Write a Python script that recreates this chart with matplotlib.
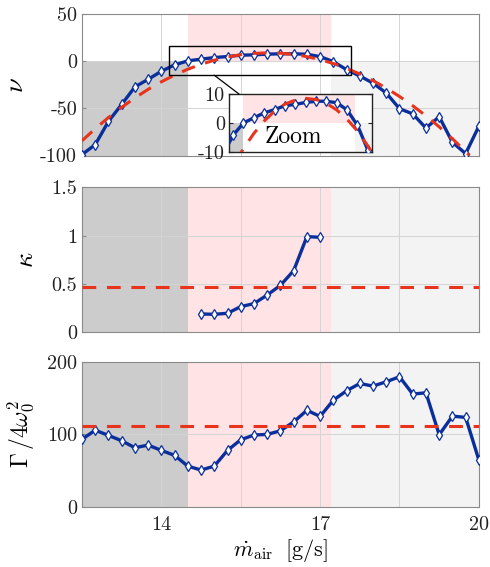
import numpy as np
import matplotlib
matplotlib.use("Agg")
import matplotlib.pyplot as plt
from matplotlib.patches import ConnectionPatch

plt.rcParams['font.family'] = ['cmr10', 'DejaVu Serif']
plt.rcParams['mathtext.fontset'] = 'cm'
plt.rcParams['axes.unicode_minus'] = False
plt.rcParams['axes.formatter.use_mathtext'] = True

# air mass flow rate [g/s]
m_air = np.arange(12.5, 20.01, 0.25)

# top panel: nu
nu = [-99, -88.5, -64, -46, -27.5, -19.5, -11, -4.2, 0, 1.8, 3.5, 4.6, 6.0, 6.4,
      7.1, 7.5, 7.5, 7.0, 4.5, -0.8, -9.3, -16, -23.5, -34, -50.5, -56, -71,
      -59, -86, -98, -69]
# fitted curve (dashed red)
m_fit = [12.5, 12.75, 13.0, 13.25, 13.5, 13.75, 14.0, 14.25, 14.5, 14.75, 15.0,
         15.25, 15.5, 15.75, 16.0, 16.25, 16.5, 16.75, 17.0, 17.25, 17.5, 17.75,
         18.0, 18.25, 18.5, 18.75, 19.0, 19.25, 19.5, 19.75, 19.82]
nu_fit = [-84.4, -71.7, -59.9, -49.0, -39.1, -30.1, -22.1, -15.0, -8.8, -3.6, 0.7,
          4.1, 6.5, 7.9, 8.5, 8.1, 6.8, 4.5, 1.3, -2.8, -7.9, -13.9, -20.9, -28.8,
          -37.6, -47.4, -58.1, -69.7, -82.3, -95.8, -99.8]

# middle panel: kappa
m_kappa = [14.75, 15.0, 15.25, 15.5, 15.75, 16.0, 16.25, 16.5, 16.75, 17.0]
kappa = [0.19, 0.186, 0.197, 0.266, 0.297, 0.386, 0.486, 0.638, 0.99, 0.983]
kappa_mean = 0.466

# bottom panel: Gamma / 4 omega0^2
gamma = [93, 105.5, 98.4, 91, 81.4, 85, 77.7, 70.8, 56, 50.6, 56, 77.7, 92.4,
         98.9, 99.8, 104.8, 117, 133, 124.6, 147, 160, 170, 166.4, 172.4, 179.3,
         155.4, 157.2, 99.3, 125, 123.2, 64.4]
gamma_mean = 111

# regime boundaries
x_lo, x_b1, x_b2, x_hi = 12.5, 14.5, 17.2, 20.0

blue = '#0a2f9c'
red = '#e8341c'
dark_grey = '#cccccc'
light_grey = '#f3f3f3'
pink = '#ffe3e5'
spine_c = '#8a8a8a'
fs = 14.5


def style(ax):
    for s in ax.spines.values():
        s.set_color(spine_c)
        s.set_linewidth(0.8)
    ax.tick_params(direction='in', length=3, colors=spine_c, labelcolor='#222222',
                   labelsize=fs, top=False, right=False)


def shade(ax, y0, y1, split=None):
    # split: level where pink/grey switch (top panel)
    if split is None:
        ax.axvspan(x_lo, x_b1, color=dark_grey, lw=0, zorder=0)
        ax.axvspan(x_b1, x_b2, color=pink, lw=0, zorder=0)
        ax.axvspan(x_b2, x_hi, color=light_grey, lw=0, zorder=0)
    else:
        ax.fill_between([x_lo, x_b1], y0, split, color=dark_grey, lw=0, zorder=0)
        ax.fill_between([x_b1, x_b2], split, y1, color=pink, lw=0, zorder=0)
        ax.fill_between([x_b2, x_hi], y0, split, color=light_grey, lw=0, zorder=0)


def data_line(ax, x, y, ms=5):
    ax.plot(x, y, '-d', color=blue, lw=2.4, ms=ms, mfc='white', mec=blue,
            mew=0.9, zorder=3)


fig = plt.figure(figsize=(4.9, 5.67), dpi=100)
ax1 = fig.add_axes([0.1673, 0.7257, 0.810, 0.2504])
ax2 = fig.add_axes([0.1673, 0.4139, 0.810, 0.2557])
ax3 = fig.add_axes([0.1673, 0.1063, 0.810, 0.2557])

xt = [12.5, 14, 15.5, 17, 18.5, 20]
for ax in (ax1, ax2, ax3):
    style(ax)
    ax.set_xlim(x_lo, x_hi)
    ax.set_xticks(xt)
    ax.set_xticklabels([])
    ax.grid(True, color='#d4d4d4', lw=0.7, zorder=1)
    ax.set_axisbelow(True)
    ax.tick_params(axis='x', length=0)

# top
shade(ax1, -100, 50, split=0)
ax1.plot(m_fit, nu_fit, color=red, lw=2.2, dashes=[4.5, 3.5], zorder=4)
data_line(ax1, m_air, nu)
ax1.set_ylim(-100, 50)
ax1.set_yticks([-100, -50, 0, 50])
ax1.set_yticklabels(['-100', '-50', '0', '50'])
ax1.set_ylabel(r'$\nu$', fontsize=19)
ax1.yaxis.set_label_coords(-0.135, 0.5)
ax1.add_patch(plt.Rectangle((14.14, -15.2), 3.45, 31.1, fill=False,
                            ec='black', lw=1.0, zorder=5))

# inset
axi = fig.add_axes([0.4673, 0.7319, 0.2918, 0.1023])
for s in axi.spines.values():
    s.set_color('#222222')
    s.set_linewidth(1.0)
axi.tick_params(direction='in', length=3, labelsize=fs, colors='#222222',
                right=True, top=False, pad=3)
shade(axi, -10.5, 10.5, split=0)
axi.plot(m_fit, nu_fit, color=red, lw=2.2, dashes=[4.5, 3.5], zorder=4)
data_line(axi, m_air, nu, ms=5)
axi.set_xlim(14.15, 17.6)
axi.set_ylim(-10, 10)
axi.set_yticks([-10, 0, 10])
axi.set_yticklabels(['-10', '0', '10'])
axi.set_xticks([])
axi.text(0.45, 0.26, 'Zoom', transform=axi.transAxes, ha='center', va='center',
         fontsize=17, zorder=6,
         bbox=dict(fc='white', ec='none', pad=0.5))
con = ConnectionPatch(xyA=(15.0, -15.2), coordsA=ax1.transData,
                      xyB=(0.07, 1.0), coordsB=axi.transAxes,
                      color='black', lw=0.9)
fig.add_artist(con)

# middle
shade(ax2, 0, 1.5)
ax2.axhline(kappa_mean, color=red, lw=2.2, dashes=[4.5, 3.5], zorder=4)
data_line(ax2, m_kappa, kappa)
ax2.set_ylim(0, 1.5)
ax2.set_yticks([0, 0.5, 1, 1.5])
ax2.set_yticklabels(['0', '0.5', '1', '1.5'])
ax2.set_ylabel(r'$\kappa$', fontsize=19)
ax2.yaxis.set_label_coords(-0.112, 0.5)

# bottom
shade(ax3, 0, 200)
ax3.axhline(gamma_mean, color=red, lw=2.2, dashes=[4.5, 3.5], zorder=4)
data_line(ax3, m_air, gamma)
ax3.set_ylim(0, 200)
ax3.set_yticks([0, 100, 200])
ax3.set_yticklabels(['0', '100', '200'])
ax3.set_xticklabels(['', '14', '', '17', '', '20'])
ax3.tick_params(axis='x', labelsize=fs, pad=7)
ax3.set_ylabel(r'$\Gamma\,/4\omega_0^2$', fontsize=17)
ax3.yaxis.set_label_coords(-0.115, 0.5)
ax3.set_xlabel(r'$\dot{m}_\mathrm{air}\ \;[\mathrm{g/s}]$', fontsize=16, labelpad=2)

fig.savefig('out.png', dpi=100)
